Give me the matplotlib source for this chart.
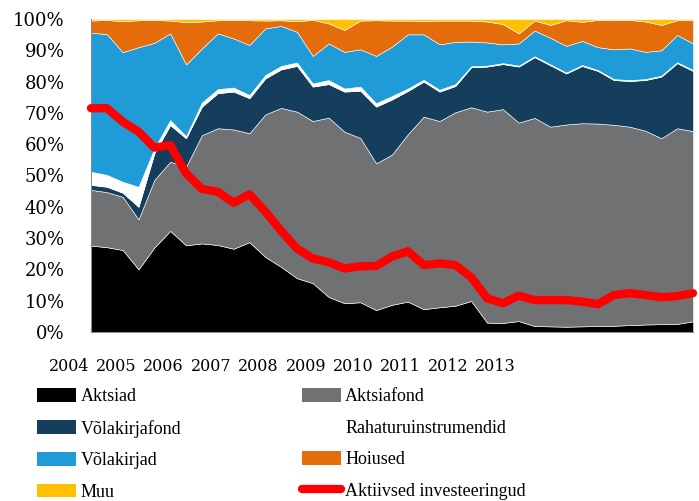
import numpy as np
import matplotlib
matplotlib.use("Agg")
import matplotlib.pyplot as plt
from matplotlib.patches import Patch
from matplotlib.lines import Line2D

# Quarterly portfolio structure, 2004 Q1 .. 2013 Q3 (shares in %)
quarters = [f"{y} Q{q}" for y in range(2004, 2014) for q in range(1, 5)][:39]

aktsiad = [27.6, 27.1, 26.2, 20.0, 27.0, 32.3, 27.7, 28.3, 27.8, 26.6,
           28.7, 24.0, 20.8, 17.2, 15.6, 11.2, 9.2, 9.5, 7.0, 8.7,
           9.7, 7.3, 7.9, 8.4, 9.9, 3.0, 2.9, 3.5, 1.9, 1.8,
           1.7, 1.8, 1.9, 2.0, 2.2, 2.4, 2.5, 2.6, 3.4]
aktsiafond = [17.8, 17.6, 17.0, 16.0, 21.6, 22.1, 25.1, 34.6, 37.3, 38.1,
              34.8, 45.5, 50.8, 53.2, 51.8, 57.3, 54.8, 52.5, 46.9, 48.0,
              53.5, 61.5, 59.5, 61.8, 61.9, 67.4, 68.3, 63.4, 66.5, 63.8,
              64.6, 64.9, 64.7, 64.2, 63.4, 61.9, 59.4, 62.5, 60.8]
volakirjafond = [1.6, 1.7, 1.3, 4.0, 8.5, 11.7, 9.1, 9.1, 11.2, 12.1,
                 11.2, 11.5, 12.3, 14.6, 11.0, 10.7, 12.8, 15.1, 18.1, 17.6,
                 13.8, 11.2, 9.4, 8.4, 12.8, 14.4, 14.4, 17.9, 19.4, 19.6,
                 16.3, 18.3, 16.8, 14.3, 14.6, 16.2, 19.7, 20.8, 19.2]
rahaturu = [4.2, 3.8, 3.5, 6.4, 1.6, 1.6, 0.7, 1.3, 1.3, 1.3,
            1.0, 1.1, 1.1, 1.1, 1.0, 1.3, 1.0, 1.3, 1.1, 1.1,
            0.8, 0.6, 0.6, 0.6, 0.3, 0.3, 0.3, 0.3, 0.3, 0.3,
            0.3, 0.3, 0.3, 0.3, 0.3, 0.3, 0.3, 0.3, 0.3]
volakirjad = [44.4, 45.0, 41.4, 44.6, 33.7, 27.7, 22.9, 17.3, 17.8, 15.7,
              16.0, 14.9, 12.8, 9.8, 8.8, 11.7, 11.7, 11.9, 15.1, 15.8,
              17.3, 14.5, 14.5, 13.5, 7.9, 7.4, 6.0, 7.1, 8.2, 8.5,
              8.5, 7.7, 7.3, 9.5, 10.1, 8.7, 8.1, 8.7, 8.5]
hoiused = [3.9, 4.5, 9.9, 8.6, 7.3, 4.1, 13.5, 8.6, 4.2, 5.9,
           7.9, 2.5, 1.8, 3.4, 11.5, 6.4, 7.0, 9.2, 11.4, 8.3,
           4.4, 4.3, 7.6, 6.8, 6.7, 6.7, 6.5, 3.2, 3.2, 4.1,
           8.2, 6.1, 8.7, 9.3, 9.1, 9.7, 8.1, 4.7, 7.4]
muu = [0.5, 0.3, 0.7, 0.4, 0.3, 0.5, 1.0, 0.8, 0.4, 0.3,
       0.4, 0.5, 0.4, 0.7, 0.3, 1.4, 3.5, 0.5, 0.4, 0.5,
       0.5, 0.6, 0.5, 0.5, 0.5, 0.8, 1.6, 4.6, 0.5, 1.9,
       0.4, 0.9, 0.3, 0.4, 0.3, 0.8, 1.9, 0.4, 0.4]
aktiivsed = [71.5, 71.5, 67.2, 64.0, 58.9, 59.7, 50.7, 45.7, 44.8, 41.3,
             44.0, 38.5, 32.3, 26.7, 23.5, 22.3, 20.3, 21.0, 21.1, 24.1,
             25.8, 21.4, 21.9, 21.4, 17.5, 10.8, 9.2, 11.6, 10.2, 10.2,
             10.2, 9.7, 8.9, 11.8, 12.4, 11.8, 11.1, 11.5, 12.4]

years = list(range(2004, 2014))
yticks = list(range(0, 101, 10))

names = ["Aktsiad", "Aktsiafond", "Võlakirjafond", "Rahaturuinstrumendid",
         "Võlakirjad", "Hoiused", "Muu"]
colors = ["#000000", "#707173", "#153e5c", "#ffffff",
          "#1f9bd7", "#e46c0a", "#ffc000"]
red = "#ff0000"

W, H = 699, 501
left, right, top, bottom = 91, 693, 19, 332
fig = plt.figure(figsize=(W / 100, H / 100), dpi=100)
rect = [left / W, 1 - bottom / H, (right - left) / W, (bottom - top) / H]

# year labels live on a transparent full-width axis underneath,
# 47.35 px per year with 2004 centred at x=69 px
px_per_year = 47.35
ax_years = fig.add_axes([0, rect[1], 1, rect[3]], zorder=0)
ax_years.set_xlim(2004 - 69 / px_per_year, 2004 + (W - 69) / px_per_year)
ax_years.set_xticks(years, [str(y) for y in years])
ax_years.tick_params(axis="x", length=0, pad=19, labelsize=11.5)
for lab in ax_years.get_xticklabels():
    lab.set_family("DejaVu Serif")
ax_years.set_yticks([])
for s in ax_years.spines.values():
    s.set_visible(False)
ax_years.patch.set_visible(False)

ax = fig.add_axes(rect, zorder=1)
x = np.arange(len(quarters))
ax.stackplot(x, aktsiad, aktsiafond, volakirjafond, rahaturu, volakirjad,
             hoiused, muu, colors=colors, edgecolor="white", linewidth=0.4)
ax.plot(x, aktiivsed, color=red, lw=6, solid_joinstyle="round",
        solid_capstyle="round", clip_on=False, zorder=5)

ax.set_xlim(0, len(quarters) - 1)
ax.set_ylim(0, 100)
ax.set_xticks([])
ax.set_yticks(yticks)
ax.set_yticklabels([f"{v}%" for v in yticks], family="DejaVu Serif",
                   fontsize=13)
ax.tick_params(axis="y", length=0, pad=19)
ax.patch.set_visible(False)
for side in ("top", "right"):
    ax.spines[side].set_visible(False)
for side in ("left", "bottom"):
    ax.spines[side].set_color("#8c8c8c")
    ax.spines[side].set_linewidth(0.8)

# legend, filled column by column
patches = {n: Patch(facecolor=c, edgecolor="none") for n, c in zip(names, colors)}
red_line = Line2D([], [], color=red, lw=6, solid_capstyle="round")
order = ["Aktsiad", "Võlakirjafond", "Võlakirjad", "Muu",
         "Aktsiafond", "Rahaturuinstrumendid", "Hoiused"]
handles = [patches[n] for n in order] + [red_line]
labels = order + ["Aktiivsed investeeringud"]
fig.legend(handles, labels, ncol=2, loc="upper left",
           bbox_to_anchor=(37 / W, 1 - 388 / H), frameon=False,
           prop={"family": "Liberation Serif", "size": 13},
           handlelength=2.15, handleheight=0.8, handletextpad=0.25,
           columnspacing=6.7, labelspacing=0.8, borderpad=0,
           borderaxespad=0)

fig.savefig("out.png", dpi=100)
